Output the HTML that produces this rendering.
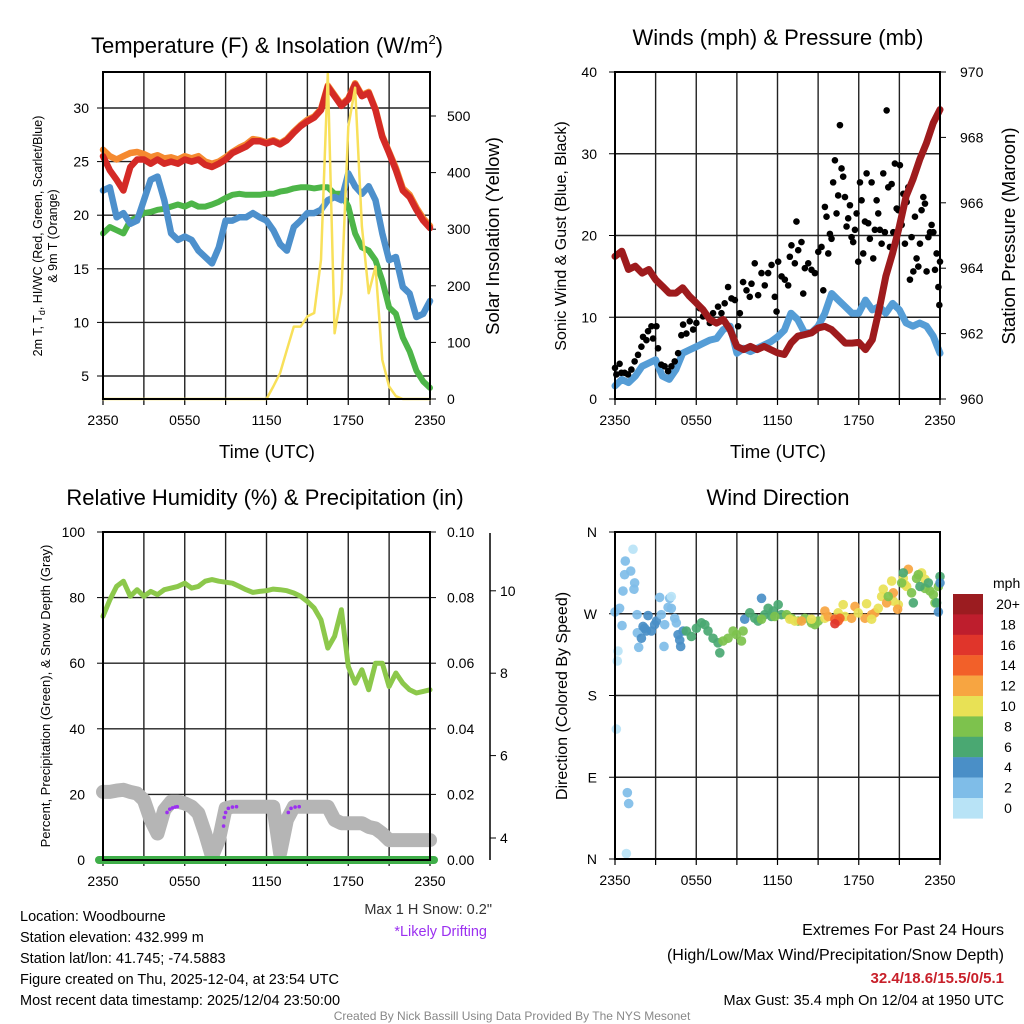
<!DOCTYPE html>
<html><head><meta charset="utf-8">
<style>
html,body{margin:0;padding:0;background:#fff;}
svg{display:block;font-family:"Liberation Sans",Arial,sans-serif;}
</style></head>
<body>
<svg id="chart" width="1024" height="1024" viewBox="0 0 1024 1024" xmlns="http://www.w3.org/2000/svg">
<rect width="1024" height="1024" fill="#fff"/>
<text x="267" y="53" font-size="22" text-anchor="middle">Temperature (F) &amp; Insolation (W/m<tspan font-size="13" dy="-9">2</tspan><tspan dy="9">)</tspan></text>
<text x="778" y="45" font-size="22" text-anchor="middle">Winds (mph) &amp; Pressure (mb)</text>
<text x="265" y="505" font-size="22" text-anchor="middle">Relative Humidity (%) &amp; Precipitation (in)</text>
<text x="778" y="505" font-size="22" text-anchor="middle">Wind Direction</text>

<text transform="translate(42,236) rotate(-90)" font-size="12.5" text-anchor="middle">2m T, T<tspan font-size="9" dy="3">d</tspan><tspan dy="-3">, HI/WC (Red, Green, Scarlet/Blue)</tspan></text>
<text transform="translate(57,236) rotate(-90)" font-size="12.5" text-anchor="middle">&amp; 9m T (Orange)</text>
<text transform="translate(499,236) rotate(-90)" font-size="18.5" text-anchor="middle">Solar Insolation (Yellow)</text>
<text x="267" y="458" font-size="18.5" text-anchor="middle">Time (UTC)</text>
<text transform="translate(566,236) rotate(-90)" font-size="16" text-anchor="middle">Sonic Wind &amp; Gust (Blue, Black)</text>
<text transform="translate(1015,236) rotate(-90)" font-size="18.5" text-anchor="middle">Station Pressure (Maroon)</text>
<text x="778" y="458" font-size="18.5" text-anchor="middle">Time (UTC)</text>
<text transform="translate(50,696) rotate(-90)" font-size="13" text-anchor="middle">Percent, Precipitation (Green), &amp; Snow Depth (Gray)</text>
<text transform="translate(567,696) rotate(-90)" font-size="16" text-anchor="middle">Direction (Colored By Speed)</text>

<g id="layer"></g>

<g font-size="14.5">
<text x="20" y="921">Location: Woodbourne</text>
<text x="20" y="942">Station elevation: 432.999 m</text>
<text x="20" y="963">Station lat/lon: 41.745; -74.5883</text>
<text x="20" y="984">Figure created on Thu, 2025-12-04, at 23:54 UTC</text>
<text x="20" y="1005">Most recent data timestamp: 2025/12/04 23:50:00</text>
</g>
<text x="492" y="914" font-size="14.5" text-anchor="end" fill="#333">Max 1 H Snow: 0.2"</text>
<text x="487" y="936" font-size="14.5" text-anchor="end" fill="#9b30f0">*Likely Drifting</text>
<text x="1004" y="935" font-size="16" text-anchor="end">Extremes For Past 24 Hours</text>
<text x="1004" y="960" font-size="16" text-anchor="end">(High/Low/Max Wind/Precipitation/Snow Depth)</text>
<text x="1004" y="983" font-size="15" font-weight="bold" text-anchor="end" fill="#c8202a">32.4/18.6/15.5/0/5.1</text>
<text x="1004" y="1005" font-size="14.5" text-anchor="end">Max Gust: 35.4 mph On 12/04 at 1950 UTC</text>
<text x="512" y="1020" font-size="12" text-anchor="middle" fill="#888">Created By Nick Bassill Using Data Provided By The NYS Mesonet</text>
</svg>
<script>
const timeLabels = ["2350","0550","1150","1750","2350"];
const temp2m = [25.5,24.2,23.3,22.3,24.5,25.2,25.2,24.8,25.2,24.8,25.0,24.8,25.2,25.0,25.2,24.7,24.5,24.8,25.2,25.8,26.1,26.4,26.9,26.9,26.7,26.9,26.6,27.0,27.7,28.3,28.75,29.1,29.8,32.0,31.1,30.2,30.8,32.2,31.1,31.4,29.8,27.3,25.8,24.2,22.3,21.7,20.5,19.5,18.8];
const temp9m = [26.1,25.5,25.2,25.5,25.8,25.9,25.7,25.4,25.6,25.3,25.4,25.2,25.5,25.3,25.5,25.0,24.8,25.0,25.4,25.9,26.3,26.6,27.1,27.0,26.8,27.0,26.7,27.1,27.8,28.4,28.9,29.2,29.9,32.1,31.2,30.3,30.9,32.3,31.2,31.5,29.9,27.4,25.9,24.4,22.5,21.9,20.7,19.7,19.0];
const dewpoint = [18.3,18.9,18.6,18.3,19.5,19.8,20.2,20.3,20.5,20.6,20.8,21.0,20.8,21.1,20.8,20.8,21.0,21.25,21.6,21.9,22.0,21.9,21.9,21.9,22.0,22.0,22.2,22.3,22.5,22.6,22.6,22.5,22.6,22.6,22.0,22.0,20.8,18.3,17.0,16.7,15.8,13.9,11.4,10.8,8.6,7.3,5.5,4.5,3.9];
const windChill = [22.3,22.6,19.8,20.2,19.2,19.5,21.4,23.3,23.6,21.4,18.3,17.7,18.0,17.7,16.7,16.1,15.5,17.0,19.5,19.5,19.8,19.8,20.2,19.8,19.5,18.6,17.3,16.7,18.9,19.5,20.2,20.2,20.5,21.4,21.7,21.4,23.9,22.7,22.0,22.7,21.4,18.3,15.8,16.1,13.3,12.7,10.5,10.8,12.0];
const solar = [0,0,0,0,0,0,0,0,0,0,0,0,0,0,0,0,0,0,0,0,0,0,0,0,0,22,46,87,128,128,146,152,246,575,116,187,481,550,305,187,234,69,22,5,0,0,0,0,0];
const pressure = [964.36,964.52,963.96,964.06,963.85,963.96,963.65,963.45,963.24,963.24,963.4,963.14,962.94,962.73,962.43,962.32,962.43,962.12,961.61,961.51,961.61,961.51,961.61,961.51,961.41,961.36,961.71,961.92,961.97,962.02,962.17,962.22,962.12,961.92,961.71,961.71,961.73,961.51,961.81,962.73,963.75,964.46,965.28,966.2,966.71,967.32,967.83,968.44,968.85];
const sonicWind = [1.6,2.4,2.0,2.8,4.0,4.4,4.8,2.8,2.4,3.6,5.6,6.0,6.4,6.8,7.2,7.4,8.5,8.9,5.6,6.2,5.8,6.2,6.6,7.0,7.6,8.4,10.5,9.7,8.1,8.1,8.9,10.5,12.9,12.1,11.3,10.5,10.5,12.1,10.9,11.3,10.5,11.7,10.9,9.3,8.9,9.3,8.9,7.7,5.6];
const gustHours = [0,0.1,0.34,0.47,0.71,0.96,1.21,1.45,1.7,1.95,2.07,2.32,2.44,2.69,2.81,3.06,3.18,3.42,3.67,3.92,4.16,4.41,4.66,4.9,5.03,5.27,5.52,5.77,6.01,6.26,6.5,6.75,7.0,7.24,7.61,7.86,8.1,8.35,8.6,8.85,9.09,9.22,9.46,9.71,9.95,10.08,10.32,10.57,10.82,11.06,11.31,11.56,11.8,11.93,12.05,12.3,12.54,12.79,12.91,13.03,13.28,13.4,13.53,13.77,13.9,14.02,14.27,14.51,14.76,15.01,15.25,15.38,15.5,15.62,15.75,15.87,15.99,16.11,16.24,16.36,16.48,16.61,16.73,16.85,16.98,17.1,17.22,17.35,17.47,17.59,17.72,17.84,17.96,18.09,18.21,18.33,18.46,18.58,18.7,18.82,18.95,19.07,19.19,19.32,19.44,19.56,19.69,19.81,19.93,20.06,20.18,20.3,20.43,20.55,20.67,20.8,20.92,21.04,21.17,21.29,21.41,21.54,21.66,21.78,21.9,22.03,22.15,22.27,22.4,22.52,22.64,22.77,22.89,23.01,23.14,23.26,23.38,23.51,23.63,23.75,23.88,23.95,24.0];
const gustMph = [3.8,3.0,4.3,3.2,3.2,3.0,3.6,4.6,5.4,6.4,7.6,7.2,8.3,8.9,7.4,8.9,6.2,4.2,4.0,3.4,4.0,4.6,5.6,7.8,9.1,8.0,9.5,8.5,9.3,11.1,10.1,10.3,9.3,10.5,11.3,10.5,11.7,13.7,12.3,12.1,8.9,10.5,14.3,13.3,12.5,14.1,16.6,12.7,15.4,13.9,15.4,16.4,12.5,10.7,16.8,15.0,14.6,13.9,17.4,18.8,16.6,21.7,18.2,19.2,12.9,16.0,16.6,15.8,15.4,18.0,18.6,13.3,23.5,22.3,17.8,20.2,19.6,26.5,29.2,22.7,24.9,33.5,28.2,27.2,24.7,21.1,22.1,23.7,19.8,19.2,20.7,22.7,16.8,26.5,24.3,17.8,21.7,27.6,21.5,19.6,26.5,17.2,20.7,24.3,22.7,20.7,19.0,27.6,20.4,35.3,25.9,18.6,26.3,20.4,28.8,23.3,23.1,28.6,21.3,25.1,19.0,24.1,25.9,14.6,19.8,15.6,22.3,17.2,16.2,19.0,23.1,24.7,23.9,15.6,19.8,20.4,21.3,20.4,15.8,17.8,13.7,11.5,16.8,11.9];
const relHum = [74.3,79.3,83.4,85.0,80.4,82.4,80.4,81.9,80.9,82.4,82.9,83.4,84.4,82.9,83.4,85.0,85.5,85.0,84.7,84.4,83.4,82.4,81.6,81.9,82.1,82.6,82.4,82.1,81.4,80.4,78.8,76.8,73.2,64.6,68.2,76.3,59.0,53.9,58.0,51.9,60.0,60.0,52.9,57.0,53.9,51.9,50.9,51.4,51.9];
const snowDepth = [5.12,5.12,5.15,5.17,5.12,5.08,4.92,4.44,4.11,4.68,4.88,4.88,4.84,4.76,4.6,4.11,3.55,3.95,4.72,4.76,4.76,4.76,4.76,4.76,4.76,4.76,3.63,4.44,4.76,4.76,4.76,4.76,4.76,4.76,4.44,4.36,4.36,4.36,4.36,4.27,4.23,4.11,3.95,3.95,3.95,3.95,3.95,3.95,3.95];
const driftHours = [4.7,4.9,5.1,5.3,5.45,8.85,8.9,9.0,9.2,9.5,9.8,13.6,13.8,14.1,14.4];
const driftDepth = [4.62,4.7,4.73,4.75,4.76,4.29,4.5,4.62,4.72,4.75,4.76,4.62,4.72,4.75,4.76];
const dirHours = [0,0.34,0.52,0.71,0.76,1.16,1.33,1.45,1.4,0.59,1.63,1.65,1.75,0.22,0.17,0.1,0.91,1.01,0.84,1.95,2.07,2.44,2.69,2.93,3.06,2.32,2.19,3.3,3.42,3.67,3.62,3.92,4.16,4.04,4.16,4.41,4.53,4.66,4.78,4.85,5.03,5.27,5.64,6.01,6.38,6.63,6.87,7.24,7.61,7.74,7.98,8.35,8.72,8.97,9.34,9.46,9.58,10.82,9.95,10.32,10.57,11.06,11.31,11.68,12.05,12.3,11.56,10.82,11.8,12.67,13.03,13.53,14.02,14.51,14.76,15.01,12.91,13.28,14.51,15.5,16.85,16.98,16.48,13.77,15.5,15.75,17.47,17.72,18.46,18.95,19.19,16.24,16.61,16.48,16.24,17.96,18.58,18.95,19.44,19.69,19.81,20.43,20.55,20.92,21.29,21.41,21.54,22.64,22.89,20.06,20.55,20.87,21.66,20.18,21.17,21.9,22.27,22.4,22.89,23.26,23.51,23.88,23.63,21.29,22.03,22.52,23.14,24.0,23.75,23.88,24.0];
const dirDeg = [272,276,257,313,328,317,341,304,297,295,269,249,233,229,218,143,73,61,6,243,256,268,251,258,262,251,254,288,269,258,234,277,276,287,289,265,260,247,241,234,251,251,245,254,260,258,251,243,238,227,240,243,251,247,240,251,264,287,271,265,262,269,276,273,280,269,267,264,267,269,265,262,265,260,258,262,264,262,264,265,280,267,271,262,273,267,265,278,265,269,271,264,265,262,259,271,281,264,276,289,297,306,284,280,309,302,300,315,308,282,293,275,319,289,304,293,309,313,298,295,291,300,282,315,282,300,304,311,282,272,304];
const dirSpeed = [2,2,2,2,2,2,0,2,2,2,2,2,2,0,0,0,2,2,0,4,4,4,4,4,4,4,4,2,2,2,2,2,2,2,0,2,2,4,4,4,4,6,6,6,6,6,6,6,6,6,8,8,8,8,8,8,4,4,6,6,6,6,6,6,6,6,6,8,8,8,8,8,8,8,8,8,10,10,10,10,10,10,10,12,12,12,12,12,12,12,12,14,14,14,16,10,10,10,10,10,10,10,10,10,10,10,10,10,10,12,12,12,12,8,8,8,8,8,8,8,8,8,8,6,6,6,6,6,6,4,4];
const speedLabels = ["20+","18","16","14","12","10","8","6","4","2","0"];
const speedColors = ["#9b1c20","#be1e2d","#e0352b","#f26029","#f7a541","#e8e155","#7dc24d","#4aa872","#4a8fc7","#7fbde8","#b8e3f6"];
const tempTicks = [5,10,15,20,25,30];
const solarTicks = [0,100,200,300,400,500];
const windTicks = [0,10,20,30,40];
const presTicks = [960,962,964,966,968,970];
const rhTicks = [0,20,40,60,80,100];
const precipTicks = ["0.00","0.02","0.04","0.06","0.08","0.10"];
const snowTicks = [4,6,8,10];
const dirTicks = ["N","E","S","W","N"];

const NS = "http://www.w3.org/2000/svg";
const layer = document.getElementById('layer');
function mk(tag, attrs, parent){
  const e = document.createElementNS(NS, tag);
  for (const k in attrs) e.setAttribute(k, attrs[k]);
  (parent||layer).appendChild(e);
  return e;
}
const P1 = {x0:103,x1:430,y0:72,y1:399};
const P2 = {x0:615,x1:940,y0:72,y1:399};
const P3 = {x0:103,x1:430,y0:532,y1:860};
const P4 = {x0:615,x1:940,y0:532,y1:859};
function hx(P,h){ return P.x0 + h/24*(P.x1-P.x0); }
const ty = v => 376 - (v-5)*10.72;
const sy = v => 399 - v*0.566;
const wy = v => 399 - v*8.175;
const py = p => 399 - (p-960)*32.7;
const ry = v => 860 - v*3.28;
const sdy = s => 838 - (s-4)*41.2;
const dy = d => 859 - d*327/360;

function frame(P, name, hgrid){
  const g = mk('g',{});
  
  
  for (let i=1;i<8;i++){
    const x = P.x0 + i*(P.x1-P.x0)/8;
    const l = mk('line',{x1:x,x2:x,y1:P.y0,y2:P.y1,stroke:'#222','stroke-width':1.4},g);
    
    
  }
  hgrid.forEach(y=>{
    const l = mk('line',{x1:P.x0,x2:P.x1,y1:y,y2:y,stroke:'#222','stroke-width':1.4},g);
    
    
  });
  timeLabels.forEach((t,i)=>{
    const x = P.x0 + i*(P.x1-P.x0)/4;
    const tx = mk('text',{x:x,y:P.y1+26,'font-size':14,'text-anchor':'middle'},g);
    tx.textContent = t;
    
    
  });
  for (let i=0;i<=8;i++){
    const x = P.x0 + i*(P.x1-P.x0)/8;
    mk('line',{x1:x,x2:x,y1:P.y1,y2:P.y1+6,stroke:'#000','stroke-width':1.2},g);
  }
  return g;
}
function border(P,name){
  const r = mk('rect',{x:P.x0,y:P.y0,width:P.x1-P.x0,height:P.y1-P.y0,fill:'none',stroke:'#000','stroke-width':2});
  
  
}
function tickLabel(x,y,txt,anchor,name,fs){
  const t = mk('text',{x:x,y:y+5,'font-size':fs||14,'text-anchor':anchor});
  t.textContent = txt;
  
  
  return t;
}
function series(P, vals, yfn, color, w, name){
  let d='';
  vals.forEach((v,i)=>{ d += (i?'L':'M') + hx(P,i*0.5).toFixed(1)+','+yfn(v).toFixed(1); });
  const p = mk('path',{d:d,fill:'none',stroke:color,'stroke-width':w,'stroke-linejoin':'round','stroke-linecap':'round'});
  
  
  return p;
}

// Panel 1
frame(P1,'temperature-grid',tempTicks.map(ty));
tempTicks.forEach(v=>{ tickLabel(89,ty(v),String(v),'end','temperature-tick-label'); mk('line',{x1:P1.x0-6,x2:P1.x0,y1:ty(v),y2:ty(v),stroke:'#000'}); });
solarTicks.forEach(v=>{ tickLabel(447,sy(v),String(v),'start','solar-tick-label'); mk('line',{x1:P1.x1,x2:P1.x1+6,y1:sy(v),y2:sy(v),stroke:'#000'}); });
series(P1,temp9m,ty,'#f58a30',6.5,'series-9m-temperature');
series(P1,temp2m,ty,'#d42a26',6.5,'series-2m-temperature');
series(P1,dewpoint,ty,'#4db548',6,'series-dewpoint');
series(P1,windChill,ty,'#4d90cc',6.5,'series-wind-chill');
series(P1,solar,sy,'#f8e05a',2.5,'series-solar-insolation');
border(P1,'temperature-plot-frame');

// Panel 2
frame(P2,'winds-grid',[10,20,30].map(wy));
windTicks.forEach(v=>{ tickLabel(597,wy(v),String(v),'end','wind-tick-label'); mk('line',{x1:P2.x0-6,x2:P2.x0,y1:wy(v),y2:wy(v),stroke:'#000'}); });
presTicks.forEach(v=>{ tickLabel(960,py(v),String(v),'start','pressure-tick-label'); mk('line',{x1:P2.x1,x2:P2.x1+6,y1:py(v),y2:py(v),stroke:'#000'}); });
series(P2,sonicWind,wy,'#559dd6',7,'series-sonic-wind');
gustHours.forEach((h,i)=>{
  const c = mk('circle',{cx:hx(P2,h),cy:wy(gustMph[i]),r:3.3,fill:'#000'});
  
  
});
series(P2,pressure,py,'#9e1b1d',7,'series-station-pressure');
border(P2,'winds-plot-frame');

// Panel 3
frame(P3,'humidity-grid',[20,40,60,80].map(ry));
rhTicks.forEach((v,i)=>{
  tickLabel(85,ry(v),String(v),'end','humidity-tick-label');
  mk('line',{x1:P3.x0-6,x2:P3.x0,y1:ry(v),y2:ry(v),stroke:'#000'});
  tickLabel(447,ry(v),precipTicks[i],'start','precip-tick-label');
  mk('line',{x1:P3.x1,x2:P3.x1+6,y1:ry(v),y2:ry(v),stroke:'#000'});
});
const sa = mk('line',{x1:490,x2:490,y1:533,y2:860,stroke:'#000','stroke-width':1.5});


snowTicks.forEach(v=>{ tickLabel(500,sdy(v),String(v),'start','snow-tick-label'); mk('line',{x1:490,x2:496,y1:sdy(v),y2:sdy(v),stroke:'#000'}); });
series(P3,relHum,ry,'#8cc84b',5,'series-relative-humidity');
series(P3,snowDepth,sdy,'#b5b5b5',14,'series-snow-depth');
driftHours.forEach((h,i)=>{
  const c = mk('circle',{cx:hx(P3,h),cy:sdy(driftDepth[i]),r:1.8,fill:'#9b30f0'});
  
  
});
const pr = mk('line',{x1:P3.x0-4,x2:P3.x1+4,y1:ry(0),y2:ry(0),stroke:'#3fae49','stroke-width':8,'stroke-linecap':'round'});


border(P3,'humidity-plot-frame');

// Panel 4
frame(P4,'direction-grid',[90,180,270].map(dy));
dirTicks.forEach((t,i)=>{ tickLabel(597,dy(i*90),t,'end','direction-tick-label'); mk('line',{x1:P4.x0-6,x2:P4.x0,y1:dy(i*90),y2:dy(i*90),stroke:'#000'}); });
dirHours.forEach((h,i)=>{
  const idx = Math.max(0, Math.min(10, 10 - Math.round(dirSpeed[i]/2)));
  const c = mk('circle',{cx:hx(P4,h),cy:dy(dirDeg[i]),r:4.8,fill:speedColors[idx],'fill-opacity':0.92});
  
  
});
border(P4,'direction-plot-frame');

const cb = mk('g',{});


const cbt = mk('text',{x:993,y:588,'font-size':14},cb);
cbt.textContent='mph';


speedLabels.forEach((lab,i)=>{
  const y = 594 + i*20.4;
  const r = mk('rect',{x:953,y:y,width:30,height:20.6,fill:speedColors[i]},cb);
  
  
  const t = mk('text',{x:1008,y:y+15,'font-size':14,'text-anchor':'middle'},cb);
  t.textContent = lab;
  
  
});
</script>
</body></html>
